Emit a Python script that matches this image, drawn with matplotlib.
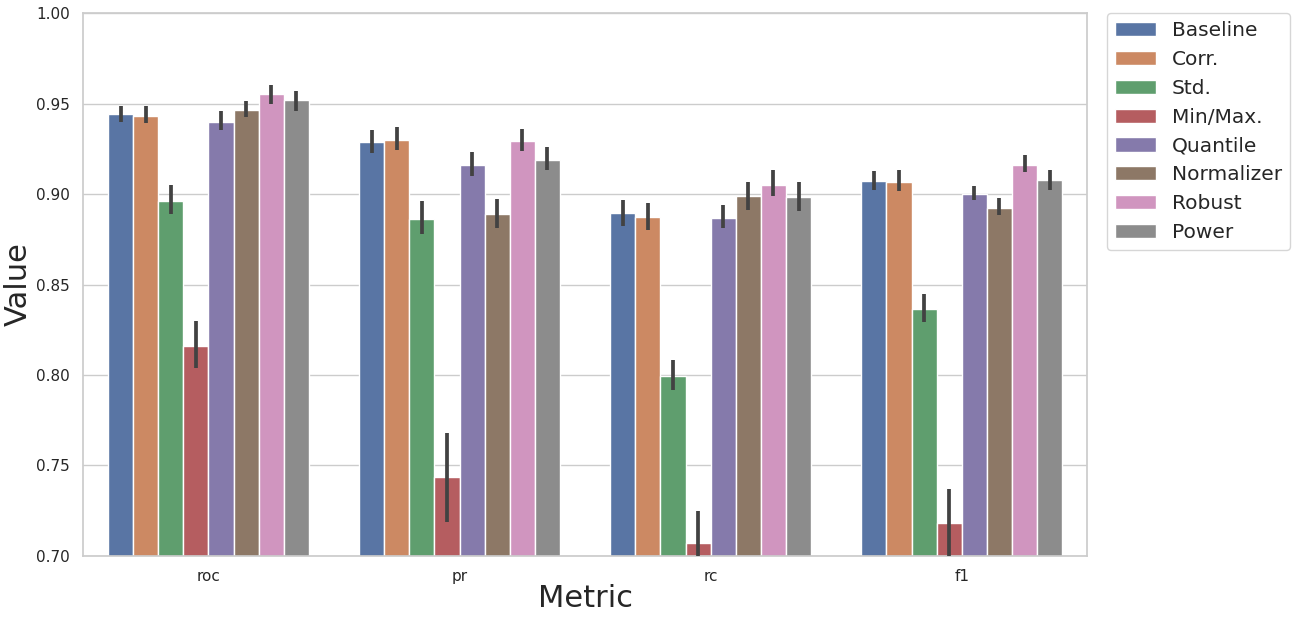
import numpy as np
import matplotlib
matplotlib.use('Agg')
import matplotlib.pyplot as plt
import seaborn as sns

# 평가지표 / 스케일러
metrics = ['roc', 'pr', 'rc', 'f1']
scalers = ['Baseline', 'Corr.', 'Std.', 'Min/Max.', 'Quantile', 'Normalizer', 'Robust', 'Power']

# 평균값 (scaler 순서, metric 순서)
baseline = [0.9441, 0.9287, 0.8897, 0.9073]
corr = [0.9430, 0.9298, 0.8875, 0.9068]
std = [0.8963, 0.8864, 0.7996, 0.8364]
minmax = [0.8161, 0.7436, 0.7073, 0.7180]
quantile = [0.9397, 0.9161, 0.8870, 0.9002]
normalizer = [0.9463, 0.8892, 0.8991, 0.8925]
robust = [0.9551, 0.9293, 0.9051, 0.9161]
power = [0.9518, 0.9188, 0.8985, 0.9079]

# 신뢰구간 하한 / 상한
baseline_lo = [0.9396, 0.9229, 0.8826, 0.9022]
baseline_hi = [0.9489, 0.9352, 0.8967, 0.9126]
corr_lo = [0.9390, 0.9242, 0.8802, 0.9016]
corr_hi = [0.9484, 0.9368, 0.8951, 0.9132]
std_lo = [0.8890, 0.8780, 0.7918, 0.8291]
std_hi = [0.9049, 0.8962, 0.8082, 0.8445]
minmax_lo = [0.8038, 0.7187, 0.6900, 0.6980]
minmax_hi = [0.8297, 0.7681, 0.7251, 0.7372]
quantile_lo = [0.9352, 0.9099, 0.8813, 0.8967]
quantile_hi = [0.9456, 0.9231, 0.8938, 0.9044]
normalizer_lo = [0.9423, 0.8813, 0.8912, 0.8882]
normalizer_hi = [0.9516, 0.8972, 0.9064, 0.8978]
robust_lo = [0.9500, 0.9236, 0.8989, 0.9121]
robust_hi = [0.9604, 0.9357, 0.9132, 0.9214]
power_lo = [0.9459, 0.9132, 0.8907, 0.9022]
power_hi = [0.9571, 0.9258, 0.9069, 0.9132]

means = [baseline, corr, std, minmax, quantile, normalizer, robust, power]
lows = [baseline_lo, corr_lo, std_lo, minmax_lo, quantile_lo, normalizer_lo, robust_lo, power_lo]
highs = [baseline_hi, corr_hi, std_hi, minmax_hi, quantile_hi, normalizer_hi, robust_hi, power_hi]

# %%
sns.set_theme(style='whitegrid')
colors = [sns.desaturate(c, 0.75) for c in sns.color_palette('deep', 8)]

fig = plt.figure(figsize=(12.96, 6.21), dpi=100)
ax = fig.add_axes([0.064, 0.1047, 0.775, 0.8743])

x = np.arange(len(metrics))
n = len(scalers)
w = 0.8 / n
for i, name in enumerate(scalers):
    pos = x - 0.4 + w * (i + 0.5)
    ax.bar(pos, means[i], width=w, color=colors[i], edgecolor='white', linewidth=1,
           label=name, zorder=2)
    ax.vlines(pos, lows[i], highs[i], color='.26', linewidth=2.7, zorder=3)

ax.set_ylim(0.70, 1.00)
ax.set_xlim(-0.5, len(metrics) - 0.5)
ax.set_xticks(x)
ax.set_xticklabels(metrics)
ax.set_yticks(np.arange(0.70, 1.001, 0.05))
ax.set_yticklabels([f'{v:.2f}' for v in np.arange(0.70, 1.001, 0.05)])
ax.tick_params(labelsize=11)
ax.grid(axis='x', visible=False)
ax.set_axisbelow(True)
ax.set_xlabel('Metric', fontsize=22, labelpad=0)
ax.set_ylabel('Value', fontsize=22, labelpad=2)
ax.legend(loc='upper left', bbox_to_anchor=(1.02, 1), borderaxespad=0, fontsize=14.5,
          labelspacing=0.49)

fig.savefig('out.png', dpi=100)
